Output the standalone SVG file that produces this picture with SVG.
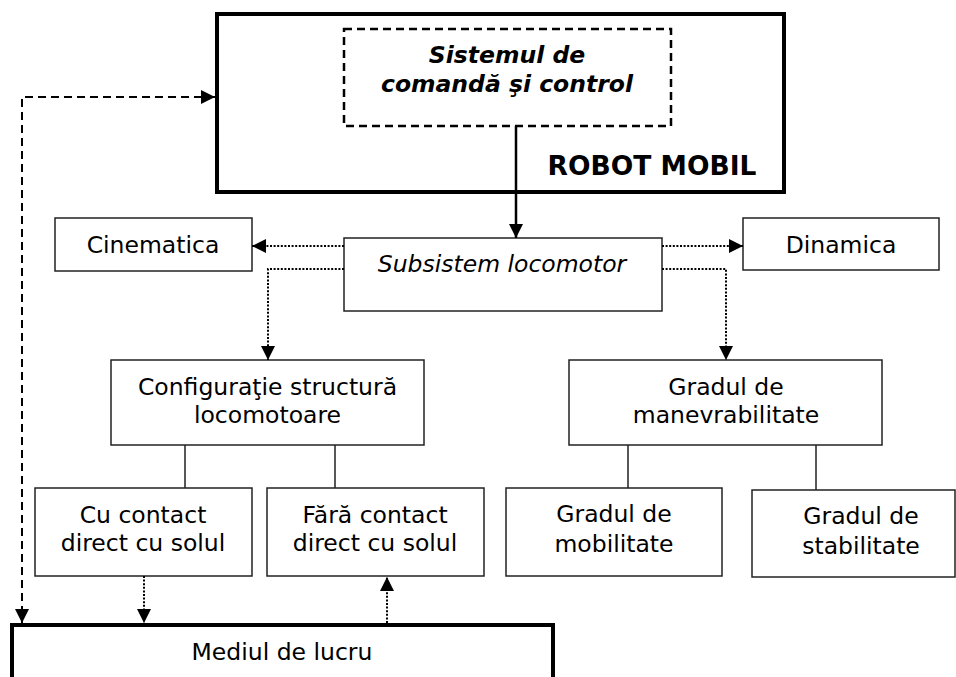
<svg xmlns="http://www.w3.org/2000/svg" width="956" height="677" viewBox="0 0 956 677">
  <style>
    text { font-family: "DejaVu Sans", Verdana, "Liberation Sans", sans-serif; font-size: 23.5px; fill: #000; text-anchor: middle; }
    .box { fill: #fff; stroke: #222; stroke-width: 1.5; }
    .thick { fill: #fff; stroke: #000; stroke-width: 4; }
    .ctl { fill: #fff; stroke: #000; stroke-width: 2.5; stroke-dasharray: 8 5; }
    .bi { font-weight: bold; font-style: italic; }
    .title { font-weight: bold; font-size: 26.5px; }
    .it { font-style: italic; }
    .solid { fill: none; stroke: #000; stroke-width: 2.5; }
    .dot { fill: none; stroke: #000; stroke-width: 2; stroke-dasharray: 2 1.6; }
    .dash { fill: none; stroke: #000; stroke-width: 2; stroke-dasharray: 8 5; }
    .plain { fill: none; stroke: #222; stroke-width: 1.5; }
  </style>
  <defs>
    <marker id="arrow" viewBox="0 0 14 14" refX="14" refY="7" markerWidth="14" markerHeight="14" markerUnits="userSpaceOnUse" orient="auto-start-reverse">
      <path d="M0,0 L14,7 L0,14 Z" fill="#000"/>
    </marker>
  </defs>

  <!-- robot with its command subsystem -->
  <g id="robot-mobil">
    <rect class="thick" x="217" y="14" width="567" height="178"/>
    <text class="title" x="652" y="175">ROBOT MOBIL</text>
  </g>
  <g id="sistem-comanda">
    <rect class="ctl" x="344" y="29" width="327" height="97"/>
    <text class="bi" x="507" y="63">Sistemul de</text>
    <text class="bi" x="507" y="92">comandă şi control</text>
  </g>

  <g id="cinematica">
    <rect class="box" x="55" y="218" width="197" height="53"/>
    <text x="153" y="253">Cinematica</text>
  </g>
  <g id="subsistem-locomotor">
    <rect class="box" x="344" y="238" width="318" height="73"/>
    <text class="it" x="502" y="272">Subsistem locomotor</text>
  </g>
  <g id="dinamica">
    <rect class="box" x="743" y="218" width="196" height="52"/>
    <text x="841" y="253">Dinamica</text>
  </g>

  <g id="configuratie">
    <rect class="box" x="111" y="360" width="313" height="85"/>
    <text x="267.5" y="395">Configuraţie structură</text>
    <text x="267.5" y="423">locomotoare</text>
  </g>
  <g id="manevrabilitate">
    <rect class="box" x="569" y="360" width="313" height="85"/>
    <text x="726" y="395">Gradul de</text>
    <text x="726" y="423">manevrabilitate</text>
  </g>

  <g id="cu-contact">
    <rect class="box" x="35" y="488" width="217" height="88"/>
    <text x="143" y="522.5">Cu contact</text>
    <text x="143" y="551">direct cu solul</text>
  </g>
  <g id="fara-contact">
    <rect class="box" x="267" y="488" width="217" height="88"/>
    <text x="375" y="522.5">Fără contact</text>
    <text x="375" y="551">direct cu solul</text>
  </g>
  <g id="mobilitate">
    <rect class="box" x="506" y="488" width="216" height="88"/>
    <text x="614" y="522">Gradul de</text>
    <text x="614" y="551.5">mobilitate</text>
  </g>
  <g id="stabilitate">
    <rect class="box" x="752" y="490" width="203" height="87"/>
    <text x="861" y="523.5">Gradul de</text>
    <text x="861" y="553.5">stabilitate</text>
  </g>

  <g id="mediul-de-lucru">
    <rect class="thick" x="12" y="625" width="541" height="80"/>
    <text x="282" y="660">Mediul de lucru</text>
  </g>

  <!-- connectors -->
  <g id="connectors">
    <path class="solid" d="M516,126 V238" marker-end="url(#arrow)"/>
    <path class="dot" d="M344,246 H252" marker-end="url(#arrow)"/>
    <path class="dot" d="M344,269 H268 V360" marker-end="url(#arrow)"/>
    <path class="dot" d="M662,246 H743" marker-end="url(#arrow)"/>
    <path class="dot" d="M662,269 H726 V360" marker-end="url(#arrow)"/>
    <path class="plain" d="M185,445 V488 M335,445 V488 M628,445 V488 M816,445 V490"/>
    <path class="dot" d="M144,576 V623" marker-end="url(#arrow)"/>
    <path class="dot" d="M387,623 V577" marker-end="url(#arrow)"/>
    <path class="dash" d="M215,97 H22 V623" marker-start="url(#arrow)" marker-end="url(#arrow)"/>
  </g>
</svg>
